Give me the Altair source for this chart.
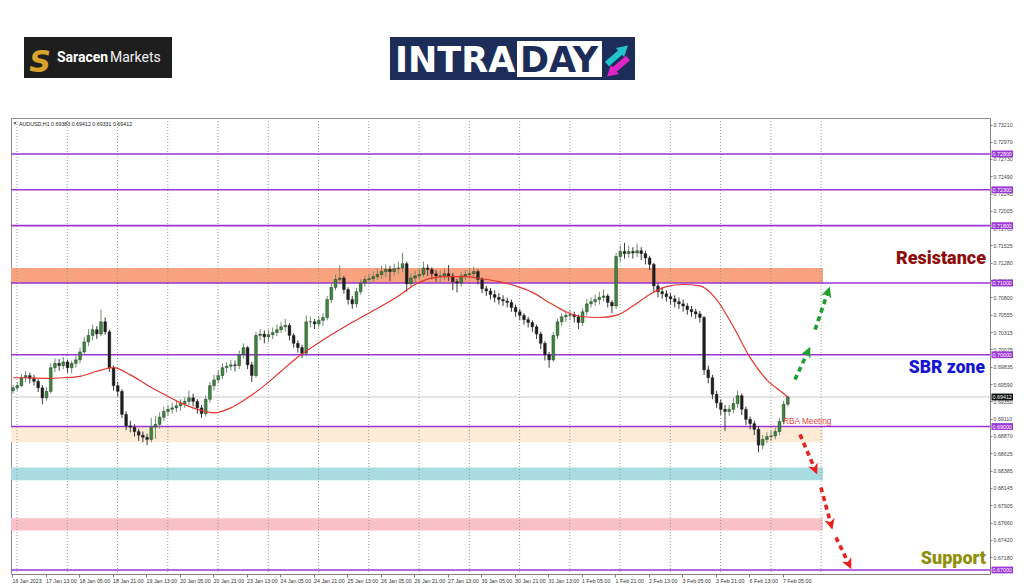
import json
import math
import pandas as pd
import altair as alt

# ---------------- data ----------------
X_LABELS = ["16 Jan 2023", "17 Jan 13:00", "18 Jan 05:00", "18 Jan 21:00", "19 Jan 13:00",
            "20 Jan 05:00", "20 Jan 21:00", "23 Jan 13:00", "24 Jan 05:00", "24 Jan 21:00",
            "25 Jan 13:00", "26 Jan 05:00", "26 Jan 21:00", "27 Jan 13:00", "30 Jan 05:00",
            "30 Jan 21:00", "31 Jan 13:00", "1 Feb 05:00", "1 Feb 21:00", "2 Feb 13:00",
            "3 Feb 05:00", "3 Feb 21:00", "6 Feb 13:00", "7 Feb 05:00"]

Y_TICKS = [0.73210, 0.72970, 0.72730, 0.72490, 0.72245, 0.72005, 0.71765, 0.71525, 0.71280,
           0.71040, 0.70800, 0.70555, 0.70315, 0.70075, 0.69835, 0.69590, 0.69350, 0.69110,
           0.68870, 0.68625, 0.68385, 0.68145, 0.67905, 0.67660, 0.67420, 0.67180, 0.66935]

# 2-hour candles, AUDUSD
OPEN = [.6950, .6954, .6957, .6968, .6971, .6967, .6963, .6954, .6940, .6949,
        .6982, .6988, .6985, .6990, .6982, .6988, .6993, .7004, .7018, .7027,
        .7035, .7029, .7046, .7032, .6982, .6957, .6949, .6917, .6901, .6899,
        .6893, .6888, .6885, .6882, .6899, .6903, .6913, .6921, .6924, .6926,
        .6929, .6932, .6935, .6940, .6935, .6926, .6918, .6938, .6957, .6965,
        .6971, .6982, .6984, .6986, .6985, .7000, .7010, .6986, .6971, .7027,
        .7029, .7025, .7028, .7031, .7035, .7039, .7041, .7027, .7016, .7010,
        .7002, .7046, .7046, .7043, .7048, .7052, .7077, .7094, .7105, .7107,
        .7091, .7077, .7071, .7088, .7100, .7105, .7106, .7109, .7112, .7116,
        .7119, .7116, .7120, .7121, .7127, .7099, .7107, .7110, .7112, .7121,
        .7119, .7113, .7110, .7110, .7113, .7110, .7102, .7100, .7110, .7112,
        .7113, .7116, .7105, .7092, .7089, .7084, .7080, .7077, .7075, .7073,
        .7066, .7060, .7055, .7049, .7045, .7039, .7029, .7016, .7000, .6993,
        .7027, .7046, .7053, .7055, .7056, .7053, .7045, .7060, .7071, .7074,
        .7077, .7080, .7082, .7073, .7068, .7137, .7144, .7141, .7144, .7142,
        .7145, .7141, .7135, .7126, .7096, .7088, .7085, .7081, .7078, .7074,
        .7071, .7068, .7063, .7060, .7057, .7052, .6979, .6968, .6945, .6933,
        .6924, .6921, .6924, .6932, .6943, .6924, .6910, .6904, .6896, .6874,
        .6882, .6886, .6887, .6893, .6907, .6931]

HIGH = [.6958, .6962, .6973, .6977, .6975, .6972, .6966, .6958, .6955, .6988,
        .6995, .6994, .6997, .6993, .6992, .6999, .7010, .7025, .7036, .7042,
        .7040, .7063, .7052, .7035, .6985, .6962, .6952, .6921, .6908, .6903,
        .6897, .6893, .6890, .6912, .6915, .6920, .6928, .6930, .6933, .6936,
        .6938, .6941, .6950, .6946, .6938, .6930, .6943, .6962, .6972, .6978,
        .6988, .6990, .6993, .6992, .7006, .7016, .7012, .6990, .7032, .7036,
        .7034, .7035, .7038, .7042, .7046, .7050, .7044, .7030, .7020, .7014,
        .7055, .7053, .7050, .7054, .7058, .7082, .7100, .7112, .7125, .7110,
        .7094, .7082, .7093, .7105, .7110, .7113, .7116, .7120, .7124, .7126,
        .7124, .7127, .7130, .7142, .7130, .7114, .7117, .7120, .7130, .7126,
        .7122, .7118, .7117, .7120, .7125, .7114, .7106, .7115, .7118, .7120,
        .7123, .7119, .7108, .7096, .7093, .7090, .7086, .7083, .7080, .7077,
        .7070, .7064, .7058, .7053, .7048, .7042, .7032, .7019, .7004, .7032,
        .7050, .7058, .7060, .7062, .7060, .7056, .7065, .7078, .7080, .7084,
        .7088, .7091, .7085, .7076, .7142, .7152, .7156, .7152, .7150, .7155,
        .7150, .7145, .7138, .7128, .7100, .7094, .7090, .7086, .7083, .7080,
        .7077, .7072, .7068, .7064, .7061, .7054, .6985, .6972, .6950, .6938,
        .6930, .6930, .6940, .6950, .6946, .6928, .6914, .6908, .6900, .6888,
        .6892, .6894, .6898, .6912, .6936, .6943]

LOW = [.6946, .6950, .6955, .6962, .6960, .6957, .6948, .6931, .6936, .6946,
       .6976, .6978, .6980, .6975, .6974, .6982, .6988, .7000, .7012, .7020,
       .7022, .7026, .7028, .6976, .6950, .6942, .6912, .6895, .6892, .6886,
       .6880, .6878, .6874, .6878, .6883, .6897, .6908, .6915, .6918, .6920,
       .6922, .6926, .6930, .6928, .6918, .6912, .6914, .6933, .6950, .6960,
       .6966, .6975, .6978, .6977, .6980, .6995, .6980, .6962, .6968, .7020,
       .7016, .7018, .7022, .7026, .7030, .7032, .7020, .7010, .7003, .6995,
       .6998, .7038, .7036, .7038, .7040, .7048, .7072, .7090, .7098, .7085,
       .7070, .7064, .7066, .7084, .7095, .7098, .7100, .7104, .7106, .7108,
       .7103, .7110, .7112, .7115, .7088, .7094, .7100, .7104, .7108, .7110,
       .7105, .7102, .7101, .7104, .7103, .7090, .7087, .7095, .7104, .7106,
       .7108, .7098, .7086, .7082, .7077, .7073, .7070, .7068, .7066, .7060,
       .7053, .7048, .7042, .7038, .7032, .7022, .7008, .6992, .6982, .6990,
       .7022, .7040, .7046, .7048, .7045, .7036, .7040, .7055, .7066, .7068,
       .7070, .7074, .7066, .7058, .7064, .7130, .7134, .7135, .7134, .7136,
       .7132, .7126, .7118, .7088, .7080, .7078, .7074, .7070, .7066, .7064,
       .7060, .7056, .7053, .7050, .7045, .6972, .6960, .6938, .6926, .6916,
       .6894, .6915, .6918, .6926, .6916, .6902, .6896, .6888, .6864, .6868,
       .6877, .6880, .6882, .6888, .6903, .6928]

CLOSE = [.6954, .6957, .6968, .6971, .6967, .6963, .6954, .6940, .6949, .6982,
         .6988, .6985, .6990, .6982, .6988, .6993, .7004, .7018, .7027, .7035,
         .7029, .7046, .7032, .6982, .6957, .6949, .6917, .6901, .6899, .6893,
         .6888, .6885, .6882, .6899, .6903, .6913, .6921, .6924, .6926, .6929,
         .6932, .6935, .6940, .6935, .6926, .6918, .6938, .6957, .6965, .6971,
         .6982, .6984, .6986, .6985, .7000, .7010, .6986, .6971, .7027, .7029,
         .7025, .7028, .7031, .7035, .7039, .7041, .7027, .7016, .7010, .7002,
         .7046, .7046, .7043, .7048, .7052, .7077, .7094, .7105, .7107, .7091,
         .7077, .7071, .7088, .7100, .7105, .7106, .7109, .7112, .7116, .7119,
         .7116, .7120, .7121, .7127, .7099, .7107, .7110, .7112, .7121, .7119,
         .7113, .7110, .7110, .7113, .7110, .7102, .7100, .7110, .7112, .7113,
         .7116, .7105, .7092, .7089, .7084, .7080, .7077, .7075, .7073, .7066,
         .7060, .7055, .7049, .7045, .7039, .7029, .7016, .7000, .6993, .7027,
         .7046, .7053, .7055, .7056, .7053, .7045, .7060, .7071, .7074, .7077,
         .7080, .7082, .7073, .7068, .7137, .7144, .7141, .7144, .7142, .7145,
         .7141, .7135, .7126, .7096, .7088, .7085, .7081, .7078, .7074, .7071,
         .7068, .7063, .7060, .7057, .7052, .6979, .6968, .6945, .6933, .6924,
         .6921, .6924, .6932, .6943, .6924, .6910, .6904, .6896, .6874, .6882,
         .6886, .6887, .6893, .6907, .6931, .69412]

# moving average (red line), sampled every 4 candles
MA_IDX = [0, 4, 8, 12, 16, 20, 24, 28, 32, 36, 40, 44, 48, 52, 56, 60, 64, 68, 72, 76,
          80, 84, 88, 92, 96, 100, 104, 108, 112, 116, 120, 124, 128, 132, 136, 140, 144,
          148, 152, 156, 160, 164, 168, 172, 176, 180, 184, 185]
MA_VAL = [.6968, .6968, .6967, .6968, .6970, .6977, .6982, .6972, .6958, .6945,
          .6933, .6924, .6919, .6926, .6940, .6957, .6977, .6997, .7013, .7028,
          .7042, .7055, .7068, .7082, .7098, .7107, .7109, .7109, .7106, .7102,
          .7096, .7087, .7073, .7060, .7053, .7052, .7055, .7068, .7084, .7095,
          .7098, .7096, .7077, .7039, .6996, .6965, .6946, .6941]

LEVELS = [0.728, 0.723, 0.718, 0.710, 0.700, 0.690, 0.670]
LAST_PRICE = 0.69412

BAND_LO = [0.7100, 0.6878, 0.6825, 0.6755]
BAND_HI = [0.7121, 0.6900, 0.6843, 0.6772]
BAND_COLORS = ["#F9A27F", "#FDEBD5", "#A9DCE2", "#F9C0C8"]

# arrows (tail -> tip), in hours / price
ARROW_T0 = [373.9, 383.5, 376.3, 386.3, 393.5]
ARROW_P0 = [0.69654, 0.70350, 0.68889, 0.68151, 0.67455]
ARROW_T1 = [380.1, 389.7, 383.5, 391.1, 399.7]
ARROW_P1 = [0.70044, 0.70879, 0.68401, 0.67636, 0.67079]
ARROW_COLORS = ["#1E9E2A", "#1E9E2A", "#E8231F", "#E8231F", "#E8231F"]

HEADER = "AUDUSD,H1  0.69383 0.69412 0.69331 0.69412"

# ---------------- layout / style ----------------
W, H = 979, 456
XMIN, XMAX = -0.48, 467.05
YMIN, YMAX = 0.66944, 0.73301
HOURS_PER_CANDLE = 2
GRID_START, GRID_STEP, GRID_COUNT = 2.4, 24, 17
BAND_END = 387.3
PURPLE = "#9B35D6"
UP, DOWN = "#3A8A3C", "#1E1E1E"
WICK_UP, WICK_DOWN = "#6E8F6E", "#3A3A3A"
FONT = "Liberation Sans"

PX_H = W / (XMAX - XMIN)
PX_P = H / (YMAX - YMIN)

xs = alt.Scale(domain=[XMIN, XMAX], nice=False, zero=False, padding=0)
ys = alt.Scale(domain=[YMIN, YMAX], nice=False, zero=False, padding=0)

x_axis = alt.Axis(values=[16 * i for i in range(len(X_LABELS))],
                  labelExpr=json.dumps(X_LABELS) + "[round(datum.value/16)]",
                  labelAlign="left", labelBaseline="top", labelPadding=1, tickSize=3,
                  labelFontSize=5.3, labelFont=FONT, labelColor="#333333", grid=False,
                  title=None, labelOverlap=False, labelFlush=False,
                  domainColor="#808080", tickColor="#808080")
y_axis = alt.Axis(orient="right", values=Y_TICKS, format=".5f", labelAlign="left",
                  labelBaseline="middle", labelPadding=1, tickSize=2, labelFontSize=5.3,
                  labelFont=FONT, labelColor="#444444", grid=False, title=None,
                  labelOverlap=False, labelFlush=False,
                  domainColor="#808080", tickColor="#808080")


def X(f):
    return alt.X(f, type="quantitative", scale=xs, axis=x_axis)


def Y(f):
    return alt.Y(f, type="quantitative", scale=ys, axis=y_axis)


one = pd.DataFrame({"k": [0]})

# candles
n = len(CLOSE)
cdf = pd.DataFrame({
    "t": [HOURS_PER_CANDLE * j + 0.5 for j in range(n)],
    "o": OPEN, "h": HIGH, "l": LOW, "c": CLOSE,
})
up = [c >= o for o, c in zip(OPEN, CLOSE)]
cdf["col"] = [UP if u else DOWN for u in up]
cdf["wcol"] = [WICK_UP if u else WICK_DOWN for u in up]

wicks = alt.Chart(cdf).mark_rule(strokeWidth=1).encode(
    x=X("t"), y=Y("l"), y2="h", color=alt.Color("wcol:N", scale=None))
bodies = alt.Chart(cdf).mark_bar(size=2.8, stroke="#1E1E1E", strokeWidth=0.4).encode(
    x=X("t"), y=Y("o"), y2="c", color=alt.Color("col:N", scale=None))

ma_df = pd.DataFrame({"t": [HOURS_PER_CANDLE * i + 0.5 for i in MA_IDX], "v": MA_VAL})
ma = alt.Chart(ma_df).mark_line(color="#E2352E", strokeWidth=1.2, interpolate="monotone").encode(
    x=X("t"), y=Y("v"))

bands_df = pd.DataFrame({"t0": [XMIN] * 4, "t1": [BAND_END] * 4, "lo": BAND_LO, "hi": BAND_HI,
                         "col": BAND_COLORS})
bands = alt.Chart(bands_df).mark_rect().encode(
    x=X("t0"), x2="t1", y=Y("lo"), y2="hi", color=alt.Color("col:N", scale=None))

grid_df = pd.DataFrame({"t": [GRID_START + GRID_STEP * k for k in range(GRID_COUNT)]})
grid = alt.Chart(grid_df).mark_rule(color="#9A9A9A", strokeWidth=1, strokeDash=[1, 2]).encode(
    x=X("t"))

last_line = alt.Chart(pd.DataFrame({"p": [LAST_PRICE]})).mark_rule(
    color="#C9C9C9", strokeWidth=1).encode(y=Y("p"))

lev_df = pd.DataFrame({"p": LEVELS})
levels = alt.Chart(lev_df).mark_rule(color=PURPLE, strokeWidth=1.6).encode(y=Y("p"))

# axis price boxes
BOX_HALF = 3.4 / PX_P
box_df = pd.DataFrame({
    "p": LEVELS + [LAST_PRICE],
    "col": [PURPLE] * len(LEVELS) + ["#111111"],
    "txt": ["%.5f" % v for v in LEVELS + [LAST_PRICE]],
})
box_df["lo"] = box_df["p"] - BOX_HALF
box_df["hi"] = box_df["p"] + BOX_HALF
boxes = alt.Chart(box_df).mark_rect().encode(
    x=alt.value(W + 1.5), x2=alt.value(W + 23), y=Y("lo"), y2="hi",
    color=alt.Color("col:N", scale=None))
box_txt = alt.Chart(box_df).mark_text(fontSize=5.3, font=FONT, color="white",
                                      align="center", baseline="middle").encode(
    x=alt.value(W + 12.2), y=Y("p"), text="txt:N")

# arrows
adf = pd.DataFrame({"t0": ARROW_T0, "p0": ARROW_P0, "t1": ARROW_T1, "p1": ARROW_P1,
                    "col": ARROW_COLORS})
adf["ang"] = [math.degrees(math.atan2(-(p1 - p0) * PX_P, (t1 - t0) * PX_H)) % 360
              for t0, p0, t1, p1 in zip(ARROW_T0, ARROW_P0, ARROW_T1, ARROW_P1)]
shafts = alt.Chart(adf).mark_rule(strokeWidth=3.6, strokeDash=[5, 4]).encode(
    x=X("t0"), x2="t1", y=Y("p0"), y2="p1", color=alt.Color("col:N", scale=None))
CHEVRON = "M-1,-0.95 L1,0 L-1,0.95 L-0.45,0 Z"
heads = alt.Chart(adf).mark_point(shape=CHEVRON, filled=True, size=120, opacity=1,
                                  strokeWidth=0).encode(
    x=X("t1"), y=Y("p1"), angle=alt.Angle("ang:Q", scale=None),
    color=alt.Color("col:N", scale=None))


def txt(s, x, y, size, color, weight="bold", align="left", font="Roboto", baseline="alphabetic",
        **kw):
    return alt.Chart(one).mark_text(text=s, fontSize=size, color=color, fontWeight=weight,
                                    align=align, font=font, baseline=baseline, **kw).encode(
        x=alt.value(x), y=alt.value(y))


def box(x0, y0, x1, y1, color):
    return alt.Chart(one).mark_rect(color=color).encode(
        x=alt.value(x0), x2=alt.value(x1), y=alt.value(y0), y2=alt.value(y1))


annotations = [
    txt("Resistance", 975, 146, 18, "#8E0E0E", weight=900, align="right"),
    txt("SBR zone", 974, 255, 17.5, "#1414D2", weight=900, align="right"),
    txt("Support", 975, 446, 18, "#8F8F0A", weight=900, align="right"),
    txt("RBA Meeting", 772, 306, 8.3, "#E8463E", weight="normal", font=FONT),
    txt(HEADER, 8, 7.5, 5.3, "#222222", weight="normal", font=FONT),
    alt.Chart(one).mark_point(shape="triangle-down", filled=True, size=8, color="#333",
                              opacity=1).encode(x=alt.value(4), y=alt.value(5.5)),
]

# logos (above the chart)
logos = [
    box(13, -81, 161, -40, "#1E1E1E"),
    txt("S", 29, -46, 30, "#D8A22C", weight="bold", align="center", font="DejaVu Sans",
        fontStyle="italic"),
    txt("Saracen", 46, -56, 14, "white", weight="bold"),
    txt("Markets", 99, -56, 14, "#F2F2F2", weight="normal"),
    box(379, -81, 624, -38, "#1C2D5A"),
    txt("INTRA", 384, -46, 35, "white", weight="bold", font="DejaVu Sans"),
    box(506, -77, 591, -41, "white"),
    txt("DAY", 509, -46, 35, "#1C2D5A", weight="bold", font="DejaVu Sans"),
    alt.Chart(one).mark_rule(color="#22C4CF", strokeWidth=6).encode(
        x=alt.value(596), x2=alt.value(611), y=alt.value(-54), y2=alt.value(-67)),
    alt.Chart(one).mark_point(shape="triangle-right", filled=True, size=150, color="#22C4CF",
                              opacity=1, angle=318).encode(x=alt.value(613), y=alt.value(-69)),
    alt.Chart(one).mark_rule(color="#E025C8", strokeWidth=6).encode(
        x=alt.value(617), x2=alt.value(603), y=alt.value(-60), y2=alt.value(-48)),
    alt.Chart(one).mark_point(shape="triangle-right", filled=True, size=150, color="#E025C8",
                              opacity=1, angle=138).encode(x=alt.value(600), y=alt.value(-45)),
]

chart = alt.layer(
    bands, grid, last_line, levels, wicks, bodies, ma, shafts, heads,
    *annotations, boxes, box_txt, *logos
).properties(
    width=W, height=H,
    autosize=alt.AutoSizeParams(type="none"),
    padding={"left": 3, "top": 110, "right": 26, "bottom": 12},
    background="white",
).configure_view(stroke="#8C8C8C", strokeWidth=1)

chart.save("out.html", embed_options={"renderer": "svg", "actions": False})
